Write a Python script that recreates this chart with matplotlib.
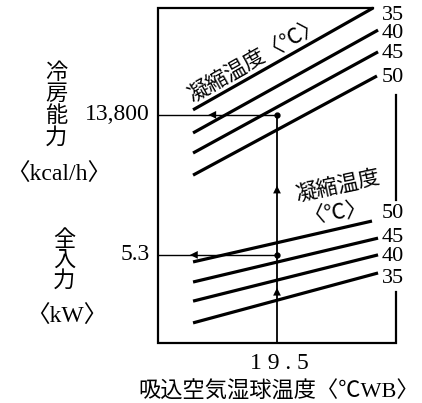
import matplotlib
matplotlib.use('Agg')
import matplotlib.pyplot as plt

plt.rcParams['font.family'] = ['Liberation Serif', 'Noto Sans CJK JP']

# x: suction wet-bulb temperature (degC WB), y: chart height in % of the box
cond_temps = [35, 40, 45, 50]

# cooling capacity lines (upper group)
cap_x0 = [15.62, 15.62, 15.62, 15.62]
cap_x1 = [23.94, 24.17, 24.17, 24.12]
cap_y0 = [69.6, 62.7, 56.7, 50.1]
cap_y1 = [100.0, 93.4, 86.9, 79.7]
cap_label_y = [97.9, 92.3, 86.4, 79.1]

# power input lines (lower group)
pow_x0 = [15.62, 15.62, 15.62, 15.62]
pow_x1 = [24.17, 24.17, 24.17, 23.89]
pow_y0 = [6.0, 12.5, 18.2, 24.2]
pow_y1 = [20.9, 26.3, 31.3, 36.4]
pow_label_y = [19.4, 25.7, 31.6, 38.8]

# operating point
wb_temp = 19.5
cap_value = 68.1   # 13,800 kcal/h
pow_value = 26.3   # 5.3 kW
cap_text = '13,800'
pow_text = '5.3'

# frame pieces (open on the right where the labels sit)
frame_x = [23.94, 14, 14, 25, 25]
frame_y = [100, 100, 0, 0, 15.2]
right_top_y = [42.7, 74.0]

fig = plt.figure(figsize=(4.22, 4.03), dpi=100)
ax = fig.add_axes([0.3744, 0.1489, 0.564, 0.8313])
ax.set_xlim(14, 25)
ax.set_ylim(0, 100)
ax.axis('off')

ax.plot(frame_x, frame_y, color='black', lw=1.6, solid_joinstyle='miter', clip_on=False)
ax.plot([25, 25], right_top_y, color='black', lw=1.6, clip_on=False)

for t, x0, x1, y0, y1, ly in zip(cond_temps, cap_x0, cap_x1, cap_y0, cap_y1, cap_label_y):
    ax.plot([x0, x1], [y0, y1], color='black', lw=2.3, solid_capstyle='butt', clip_on=False)
    ax.text(24.85, ly, str(t), fontsize=16, ha='center', va='center')

for t, x0, x1, y0, y1, ly in zip(cond_temps, pow_x0, pow_x1, pow_y0, pow_y1, pow_label_y):
    ax.plot([x0, x1], [y0, y1], color='black', lw=2.3, solid_capstyle='butt', clip_on=False)
    ax.text(24.85, ly, str(t), fontsize=16, ha='center', va='center')

# guide lines through the operating point
ax.plot([wb_temp, wb_temp], [0, cap_value], color='black', lw=1.3)
ax.plot([14, wb_temp], [cap_value, cap_value], color='black', lw=1.0)
ax.plot([14, wb_temp], [pow_value, pow_value], color='black', lw=1.0)
ax.plot([wb_temp, wb_temp], [cap_value, pow_value], 'o', color='black', ms=3.5)

# arrows
arrow = dict(arrowstyle='-|>', color='black', lw=0, mutation_scale=14)
ax.annotate('', xy=(16.2, cap_value), xytext=(16.9, cap_value), arrowprops=arrow)
ax.annotate('', xy=(15.35, pow_value), xytext=(16.05, pow_value), arrowprops=arrow)
ax.annotate('', xy=(wb_temp, 47.8), xytext=(wb_temp, 44.5), arrowprops=arrow)
ax.annotate('', xy=(wb_temp, 17.3), xytext=(wb_temp, 14.0), arrowprops=arrow)

# in-chart labels
ax.text(18.48, 84.5, '凝縮温度〈℃〉', fontsize=15.5, rotation=29.5,
        rotation_mode='anchor', ha='center', va='center')
ax.text(22.32, 46.6, '凝縮温度', fontsize=15.5, rotation=12,
        rotation_mode='anchor', ha='center', va='center')
ax.text(22.18, 38.8, '〈℃〉', fontsize=15.5, rotation=8,
        rotation_mode='anchor', ha='center', va='center')

# left side labels
ax.text(9.3, 70.6, '冷\n房\n能\n力', fontsize=16, ha='center', va='center',
        linespacing=1.08, clip_on=False)
ax.text(9.43, 50.1, '〈kcal/h〉', fontsize=17, ha='center', va='center', clip_on=False)
ax.text(13.63, cap_value, cap_text, fontsize=17, ha='right', va='center', clip_on=False)
ax.text(13.63, pow_value, pow_text, fontsize=17, ha='right', va='center', clip_on=False)
ax.text(9.66, 24.5, '全\n入\n力', fontsize=16, ha='center', va='center',
        linespacing=1.0, clip_on=False)
ax.text(9.79, 7.8, '〈kW〉', fontsize=17, ha='center', va='center', clip_on=False)

# x axis labels
ax.text(wb_temp + 0.1, -6.0, '1 9 . 5', fontsize=17, ha='center', va='center', clip_on=False)
ax.text(19.6, -14.6, '吸込空気湿球温度〈℃WB〉', fontsize=16, ha='center', va='center',
        clip_on=False)

fig.savefig('out.png', dpi=100)
